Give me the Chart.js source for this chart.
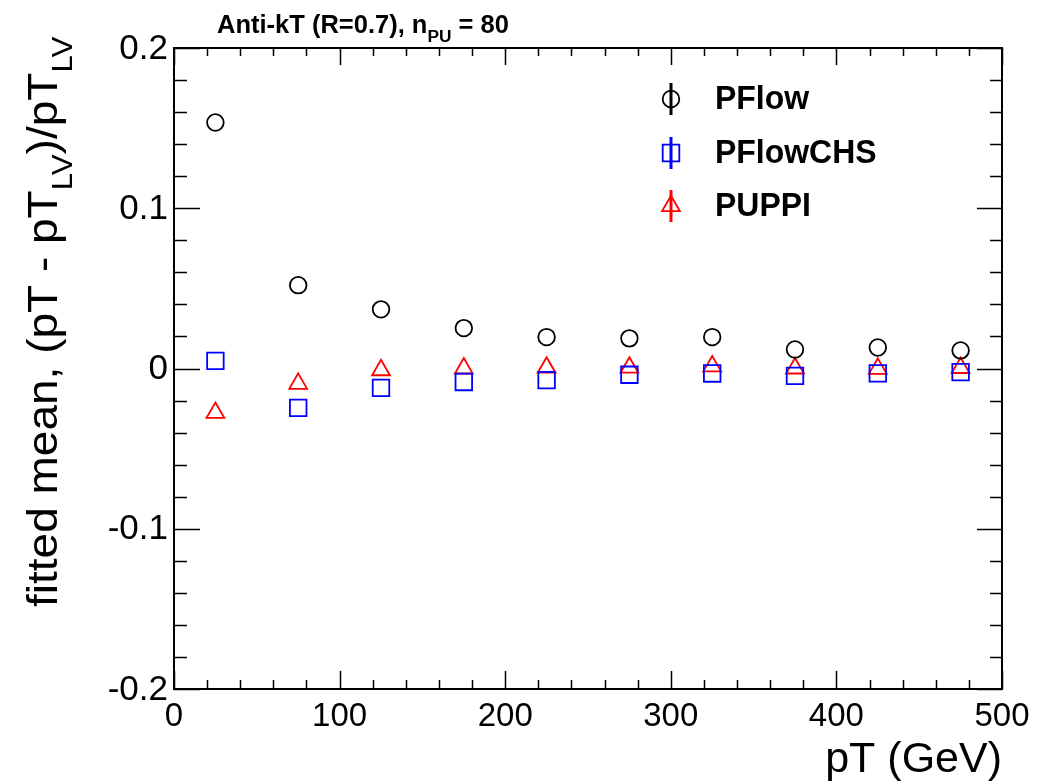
<!DOCTYPE html>
<html>
<head>
<meta charset="utf-8">
<script src="https://cdn.jsdelivr.net/npm/chart.js@4.4.0/dist/chart.umd.min.js"></script>
<style>
  html, body { margin:0; padding:0; background:#fff; }
  #wrap { width:1040px; height:782px; }
</style>
</head>
<body>
<div id="wrap"><canvas id="chart" width="1040" height="782"></canvas></div>
<script>
// fitted mean of (pT - pT_LV)/pT_LV per pT bin
const ptBins = [25, 75, 125, 175, 225, 275, 325, 375, 425, 475];
const pflowMean    = [0.1535, 0.052, 0.0369, 0.0252, 0.0196, 0.0188, 0.0196, 0.0119, 0.0131, 0.0113];
const pflowChsMean = [0.0048, -0.0246, -0.0121, -0.0084, -0.0073, -0.0039, -0.0031, -0.0046, -0.0030, -0.0023];
const puppiMean    = [-0.0276, -0.0095, -0.0010, 0.0001, 0.0006, 0.0006, 0.0014, 0.0001, -0.0001, 0.0004];

const seriesNames = ['PFlow', 'PFlowCHS', 'PUPPI'];
const xTickValues = [0, 100, 200, 300, 400, 500];
const xTickLabels = ['0', '100', '200', '300', '400', '500'];
const yTickValues = [-0.2, -0.1, 0, 0.1, 0.2];
const yTickLabels = ['-0.2', '-0.1', '0', '0.1', '0.2'];

const FONT = "'Liberation Sans', Helvetica, Arial, sans-serif";

function toPoints(vals){
  return ptBins.map((x, i) => ({ x: x, y: vals[i] }));
}

// ------------------------- text helpers -------------------------
// parts: [{t:'text', sub:true|false}], drawn left to right from (0,0) baseline
function drawRich(ctx, parts, size, bold){
  let x = 0;
  parts.forEach(p => {
    const s = p.sub ? size*0.68 : size;
    ctx.font = (bold ? 'bold ' : '') + s + 'px ' + FONT;
    ctx.fillText(p.t, x, p.sub ? size*0.36 : 0);
    x += ctx.measureText(p.t).width;
  });
}

function drawMarker(ctx, style, color, x, y){
  ctx.save();
  ctx.strokeStyle = color;
  ctx.lineWidth = 1.8;
  ctx.beginPath();
  if(style === 'circle'){
    ctx.arc(x, y, 8.3, 0, Math.PI*2);
  } else if(style === 'rect'){
    ctx.rect(x - 8.3, y - 8.3, 16.6, 16.6);
  } else {
    const r = 10.3;
    ctx.moveTo(x, y - r);
    ctx.lineTo(x + r*Math.cos(Math.PI/6), y + r/2);
    ctx.lineTo(x - r*Math.cos(Math.PI/6), y + r/2);
    ctx.closePath();
  }
  ctx.stroke();
  ctx.restore();
}

// ------------------------- ROOT style frame -------------------------
const rootFrame = {
  id: 'rootFrame',
  afterDraw(chart){
    const ctx = chart.ctx;
    const a = chart.chartArea;
    const xs = chart.scales.x, ys = chart.scales.y;
    ctx.save();
    ctx.strokeStyle = '#000';
    ctx.fillStyle = '#000';

    // ticks on all four sides, pointing inwards
    ctx.lineWidth = 1.5;
    ctx.beginPath();
    for(let i = 0; i <= 25; i++){
      const px = Math.round(xs.getPixelForValue(i*20)) + 0.5;
      const major = i % 5 === 0;
      ctx.moveTo(px, a.bottom); ctx.lineTo(px, a.bottom - (major ? 18 : 9));
      ctx.moveTo(px, a.top); ctx.lineTo(px, a.top + (major ? 17 : 8));
    }
    for(let i = -10; i <= 10; i++){
      const py = Math.round(ys.getPixelForValue(i*0.02)) + 0.5;
      const major = i % 5 === 0;
      ctx.moveTo(a.left, py); ctx.lineTo(a.left + (major ? 26 : 13), py);
      ctx.moveTo(a.right, py); ctx.lineTo(a.right - (major ? 25 : 12), py);
    }
    ctx.stroke();

    ctx.lineWidth = 2;
    ctx.strokeRect(a.left, a.top, a.right - a.left, a.bottom - a.top);

    // tick labels
    ctx.font = '33px ' + FONT;
    ctx.textAlign = 'center';
    ctx.textBaseline = 'middle';
    xTickValues.forEach((v, i) => {
      ctx.fillText(xTickLabels[i], xs.getPixelForValue(v), a.bottom + 28);
    });
    ctx.font = '35px ' + FONT;
    ctx.textAlign = 'right';
    yTickValues.forEach((v, i) => {
      ctx.fillText(yTickLabels[i], a.left - 6, ys.getPixelForValue(v) + 1);
    });

    // axis titles
    ctx.textBaseline = 'alphabetic';
    ctx.textAlign = 'right';
    ctx.font = '43px ' + FONT;
    ctx.fillText('pT (GeV)', a.right, 772);

    ctx.textAlign = 'left';
    const yTitle = [
      { t: 'fitted mean, (pT - pT' }, { t: 'LV', sub: true },
      { t: ')/pT' }, { t: 'LV', sub: true }
    ];
    ctx.save();
    ctx.translate(57, 607);
    ctx.scale(0.93, 1);
    ctx.rotate(-Math.PI/2);
    drawRich(ctx, yTitle, 46, false);
    ctx.restore();

    // title
    const title = [
      { t: 'Anti-kT (R=0.7), n' }, { t: 'PU', sub: true }, { t: ' = 80' }
    ];
    ctx.save();
    ctx.translate(217, 33);
    drawRich(ctx, title, 25.5, true);
    ctx.restore();

    // legend
    const lx = 671, ly = [99, 153, 206];
    chart.data.datasets.forEach((ds, i) => {
      ctx.save();
      ctx.strokeStyle = ds.borderColor;
      ctx.lineWidth = 3;
      ctx.beginPath();
      ctx.moveTo(lx, ly[i] - 16);
      ctx.lineTo(lx, ly[i] + 16);
      ctx.stroke();
      ctx.restore();
      drawMarker(ctx, ds.pointStyle, ds.borderColor, lx, ly[i]);
      ctx.save();
      ctx.translate(715, ly[i] + 1);
      ctx.scale(0.94, 1);
      ctx.font = 'bold 34px ' + FONT;
      ctx.textAlign = 'left';
      ctx.textBaseline = 'middle';
      ctx.fillStyle = '#000';
      ctx.fillText(seriesNames[i], 0, 0);
      ctx.restore();
    });

    ctx.restore();
  }
};

// ------------------------- chart -------------------------
const ctx = document.getElementById('chart').getContext('2d');
const chart = new Chart(ctx, {
  type: 'scatter',
  data: {
    datasets: [
      {
        label: seriesNames[0],
        data: toPoints(pflowMean),
        pointStyle: 'circle',
        pointRadius: 8.3,
        borderColor: '#000000',
        backgroundColor: 'rgba(0,0,0,0)',
        borderWidth: 1.8
      },
      {
        label: seriesNames[1],
        data: toPoints(pflowChsMean),
        pointStyle: 'rect',
        pointRadius: 11.7,
        borderColor: '#0000ff',
        backgroundColor: 'rgba(0,0,0,0)',
        borderWidth: 1.8
      },
      {
        label: seriesNames[2],
        data: toPoints(puppiMean),
        pointStyle: 'triangle',
        pointRadius: 10.3,
        borderColor: '#ff0000',
        backgroundColor: 'rgba(0,0,0,0)',
        borderWidth: 1.8
      }
    ]
  },
  options: {
    responsive: false,
    animation: false,
    layout: { padding: { left: 174, right: 38, top: 48, bottom: 93 } },
    scales: {
      x: { type: 'linear', min: 0, max: 500, display: false },
      y: { type: 'linear', min: -0.2, max: 0.2, display: false }
    },
    plugins: {
      legend: { display: false },
      tooltip: { enabled: false }
    }
  },
  plugins: [rootFrame]
});
</script>
</body>
</html>
